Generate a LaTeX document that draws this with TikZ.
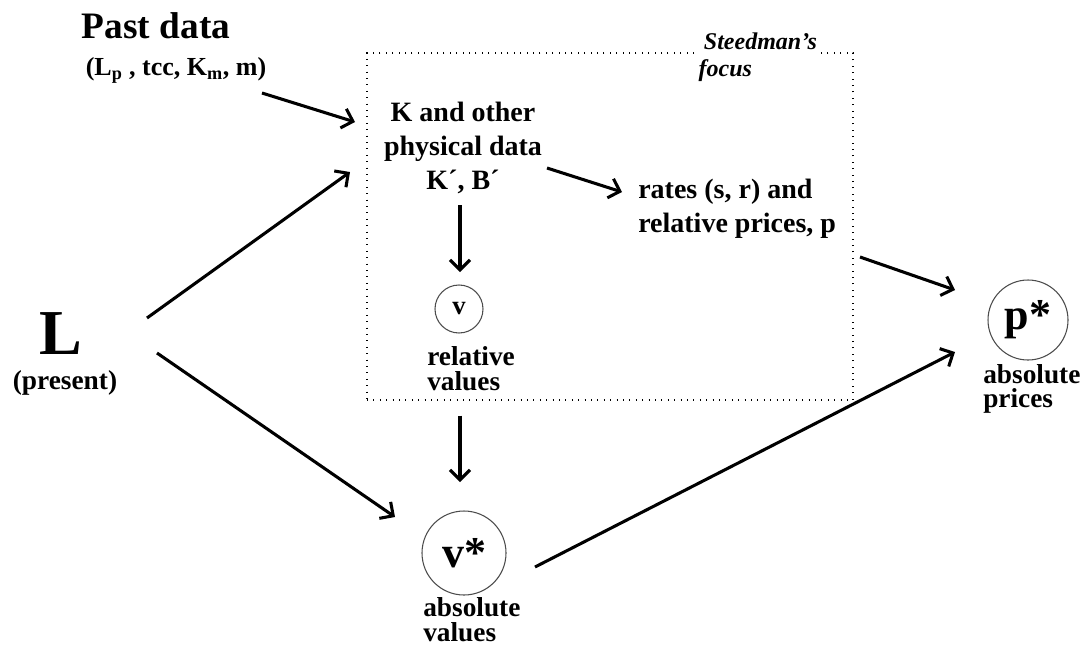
\documentclass[tikz,border=0pt]{standalone}
\usepackage{fontspec}
\setmainfont{Liberation Serif}
\usetikzlibrary{arrows.meta,calc}

\begin{document}
\begin{tikzpicture}[x=0.75pt,y=0.75pt,yscale=-1,xscale=1,
    every node/.style={inner sep=0pt, font=\bfseries},
    arr/.style={-{Straight Barb[length=7.5pt,width=15pt]}, line width=2.3pt},
    ring/.style={circle, draw=black!70, line width=0.8pt, inner sep=0pt},
    lbl/.style={align=left, font=\fontsize{20.5}{18.5}\selectfont\bfseries},
    txt/.style={font=\fontsize{21}{25.5}\selectfont\bfseries}]
            \useasboundingbox (0,0) rectangle (1091,647);
            \node[font=\fontsize{28}{32}\selectfont\bfseries] (past) at (156,26) {Past data};
            \node[font=\fontsize{19.5}{22}\selectfont\bfseries] (pastvars) at (176,70) {(L\textsubscript{p} , tcc, K\textsubscript{m}, m)};
            \node[draw, dash pattern={on 0.8pt off 4pt}, line width=0.8pt, minimum width=364.5pt, minimum height=260.25pt] (focus) at (610,226.5) {};
            \node[font=\fontsize{18}{20}\selectfont\bfseries\itshape, align=left, anchor=west, fill=white, inner sep=1pt] (steed) at (697,57) {\hspace{4pt}Steedman's\\focus};
            \node[txt, align=center] (Kdata) at (463,148) {K and other\\physical data\\K´, B´};
            \node[txt, align=left, anchor=west] (rates) at (638,209) {rates (s, r) and\\relative prices, p};
            \node[ring, minimum size=36pt, font=\fontsize{20}{20}\selectfont\bfseries] (v) at (459,309) {v};
            \node[lbl, anchor=west] (relv) at (427,369) {relative\\values};
            \node[ring, minimum size=63pt, font=\fontsize{33}{33}\selectfont\bfseries] (vstar) at (464,553) {v*};
            \node[lbl, anchor=west] (absv) at (423,620) {absolute\\values};
            \node[ring, minimum size=60pt, font=\fontsize{33}{33}\selectfont\bfseries] (pstar) at (1028,320) {p*};
            \node[lbl, anchor=west] (absp) at (983,389) {absolute\\prices};
            \node[font=\fontsize{48}{48}\selectfont\bfseries] (L) at (61,334) {L};
            \node[lbl] (present) at (65,383) {(present)};
            % arrows
            \draw[arr] ($(pastvars)+(86,23)$) -- ($(Kdata)+(-108,-26)$);
            \draw[arr] ($(L)+(86,-16)$) -- ($(Kdata)+(-113,24)$);
            \draw[arr] ($(L)+(96,19)$) -- ($(vstar)+(-69,-36)$);
            \draw[arr] ($(Kdata)+(84,20)$) -- ($(rates.west)+(-16,-17)$);
            \draw[arr] ($(Kdata)+(-3,57)$) -- ($(v)+(1,-37)$);
            \draw[arr] ($(focus.south -| v)+(1,15)$) -- ($(vstar)+(-4,-71)$);
            \draw[arr] ($(rates.west)+(222,48)$) -- ($(pstar)+(-73,-30)$);
            \draw[arr] ($(vstar)+(71,14)$) -- ($(pstar)+(-73,32)$);
        \end{tikzpicture}
\end{document}
